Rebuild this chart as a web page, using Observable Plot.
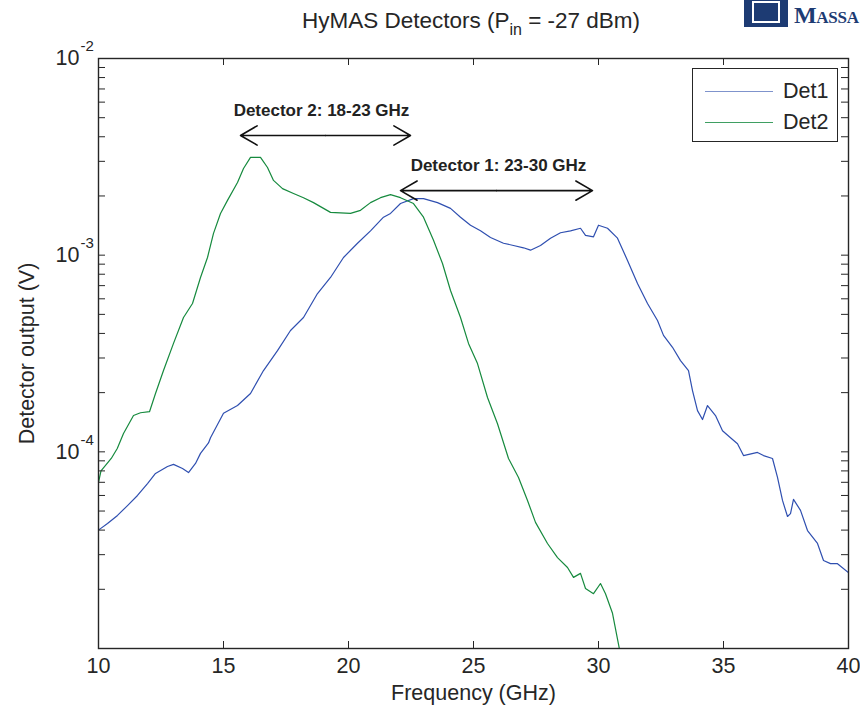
<!DOCTYPE html>
<html>
<head>
<meta charset="utf-8">
<script src="https://cdn.jsdelivr.net/npm/d3@7"></script>
<script src="https://cdn.jsdelivr.net/npm/@observablehq/plot@0.6"></script>
<style>
  html, body { margin: 0; padding: 0; background: #fff; }
  #wrap { position: relative; width: 860px; height: 708px; overflow: hidden; font-family: "Liberation Sans", Arial, sans-serif; color: #262626; }
  #title { position: absolute; left: 0; top: 9px; width: 942px; text-align: center; font-size: 22.5px; line-height: 23px; white-space: nowrap; }
  #title sub { font-size: 16px; vertical-align: -7px; line-height: 0; }
  #chart { position: absolute; left: 0; top: 40px; }
  #legend { position: absolute; left: 692px; top: 68px; width: 144px; height: 72px; border: 1px solid #262626; background: #fff; font-size: 21.5px; }
  .row { position: absolute; left: 0; height: 22px; display: flex; align-items: center; }
  .swatch { display: inline-block; width: 68px; height: 0; margin-left: 12px; margin-right: 10px; }
  #logo { position: absolute; left: 744px; top: -6px; width: 116px; height: 34px; overflow: hidden; }
  #logo .icon { position: absolute; left: 0; top: 0; width: 44px; height: 33px; background: #1d3b73; }
  #logo .icon i { position: absolute; left: 8px; top: 7px; width: 24px; height: 18px; border: 2px solid #fff; }
  #logo .word { position: absolute; left: 50px; top: 9px; font-family: "Liberation Serif", "DejaVu Serif", serif; font-weight: bold; color: #1d3b73; font-size: 24px; line-height: 24px; white-space: nowrap; letter-spacing: -0.3px; }
  #logo .word span { font-size: 17px; }
</style>
</head>
<body>
<div id="wrap">
  <div id="title">HyMAS Detectors (P<sub>in</sub> = -27 dBm)</div>
  <div id="logo"><div class="icon"><i></i></div><div class="word">M<span>ASSA</span></div></div>
  <div id="chart"></div>
  <div id="legend"></div>
</div>
<script>
// ---- data ----
const det1Freq = [10.0, 10.08, 10.36, 10.76, 11.16, 11.56, 11.96, 12.28, 12.76, 13.0, 13.36, 13.6, 13.88, 14.08, 14.4, 14.48, 15.0, 15.56, 16.08, 16.6, 17.16, 17.68, 18.2, 18.76, 19.28, 19.8, 20.36, 20.88, 21.4, 21.68, 22.08, 22.6, 23.0, 23.56, 24.08, 24.48, 24.88, 25.28, 25.68, 26.2, 26.6, 27.0, 27.28, 27.68, 28.08, 28.48, 28.88, 29.28, 29.48, 29.8, 30.0, 30.36, 30.76, 31.16, 31.56, 31.96, 32.36, 32.6, 32.96, 33.28, 33.6, 33.76, 33.96, 34.16, 34.36, 34.68, 34.96, 35.28, 35.56, 35.8, 36.36, 36.6, 36.96, 37.16, 37.36, 37.56, 37.68, 37.8, 38.08, 38.36, 38.76, 39.0, 39.28, 39.56, 40.0];
const det1Volt = [4.0e-5, 4.07e-5, 4.32e-5, 4.75e-5, 5.33e-5, 6.0e-5, 6.9e-5, 7.76e-5, 8.42e-5, 8.63e-5, 8.23e-5, 7.85e-5, 8.73e-5, 9.82e-5, 1.11e-4, 1.18e-4, 1.57e-4, 1.72e-4, 1.98e-4, 2.59e-4, 3.27e-4, 4.14e-4, 4.82e-4, 6.38e-4, 7.7e-4, 9.73e-4, 1.15e-3, 1.33e-3, 1.56e-3, 1.63e-3, 1.83e-3, 1.94e-3, 1.94e-3, 1.85e-3, 1.73e-3, 1.56e-3, 1.42e-3, 1.33e-3, 1.23e-3, 1.15e-3, 1.12e-3, 1.09e-3, 1.06e-3, 1.12e-3, 1.22e-3, 1.30e-3, 1.33e-3, 1.37e-3, 1.26e-3, 1.24e-3, 1.42e-3, 1.37e-3, 1.22e-3, 9.4e-4, 7.18e-4, 5.68e-4, 4.65e-4, 3.91e-4, 3.4e-4, 2.91e-4, 2.59e-4, 2.05e-4, 1.62e-4, 1.46e-4, 1.72e-4, 1.53e-4, 1.28e-4, 1.18e-4, 1.10e-4, 9.57e-5, 9.93e-5, 9.57e-5, 9.25e-5, 7.41e-5, 5.66e-5, 4.69e-5, 4.85e-5, 5.73e-5, 5.04e-5, 3.98e-5, 3.42e-5, 2.8e-5, 2.7e-5, 2.7e-5, 2.43e-5];
const det2Freq = [10.0, 10.1, 10.51, 10.75, 11.0, 11.4, 11.68, 12.04, 12.28, 12.6, 13.0, 13.4, 13.76, 14.08, 14.36, 14.6, 14.88, 15.16, 15.56, 15.8, 16.08, 16.48, 16.76, 17.0, 17.36, 17.8, 18.2, 18.6, 19.28, 20.08, 20.48, 20.88, 21.28, 21.68, 22.08, 22.6, 23.0, 23.4, 23.76, 24.08, 24.48, 24.8, 25.16, 25.56, 25.96, 26.4, 26.8, 27.16, 27.48, 27.96, 28.36, 28.76, 29.0, 29.28, 29.48, 29.8, 30.08, 30.28, 30.56, 30.84];
const det2Volt = [7.0e-5, 8.0e-5, 9.25e-5, 1.04e-4, 1.24e-4, 1.53e-4, 1.58e-4, 1.60e-4, 1.98e-4, 2.59e-4, 3.56e-4, 4.82e-4, 5.68e-4, 7.7e-4, 9.73e-4, 1.29e-3, 1.63e-3, 1.90e-3, 2.34e-3, 2.76e-3, 3.14e-3, 3.14e-3, 2.79e-3, 2.40e-3, 2.18e-3, 2.06e-3, 1.96e-3, 1.85e-3, 1.65e-3, 1.63e-3, 1.69e-3, 1.85e-3, 1.96e-3, 2.03e-3, 1.96e-3, 1.83e-3, 1.56e-3, 1.19e-3, 9.07e-4, 6.61e-4, 4.82e-4, 3.56e-4, 2.81e-4, 1.89e-4, 1.39e-4, 9.25e-5, 7.41e-5, 5.66e-5, 4.38e-5, 3.42e-5, 2.90e-5, 2.58e-5, 2.30e-5, 2.41e-5, 2.02e-5, 1.90e-5, 2.14e-5, 1.90e-5, 1.51e-5, 9.9e-6];
const seriesNames = ["Det1", "Det2"];
const seriesColors = ["#2f4fb0", "#168a3e"];
const legendColors = ["#7f93cc", "#3f9f62"];
const xTickValues = [10, 15, 20, 25, 30, 35, 40];
const yMajorValues = [1e-2, 1e-3, 1e-4];
const yMajorExponents = ["-2", "-3", "-4"];
const yMinorMultipliers = [1, 2, 3, 4, 5, 6, 7, 8, 9];
const yDecades = [1e-5, 1e-4, 1e-3];
const annotLabels = ["Detector 2: 18-23 GHz", "Detector 1: 23-30 GHz"];
const annotLabelX = [18.92, 26.0];
const annotLabelY = [5.45e-3, 2.86e-3];
const annotArrowFrom = [15.68, 22.08];
const annotArrowTo = [22.48, 29.76];
const annotArrowY = [4.06e-3, 2.13e-3];
const xLabel = "Frequency (GHz)";
const yLabel = "Detector output (V)";

// ---- tables ----
const det1 = det1Freq.map((f, i) => ({f, v: det1Volt[i], s: "Det1"}));
const det2 = det2Freq.map((f, i) => ({f, v: det2Volt[i], s: "Det2"}));
const yTicks = [];
for (const d of yDecades) for (const m of yMinorMultipliers) yTicks.push(d * m);
yTicks.push(1e-2);
const yMajor = yMajorValues.map((v, i) => ({v, e: yMajorExponents[i]}));
const labels = annotLabels.map((t, i) => ({t, x: annotLabelX[i], y: annotLabelY[i]}));
const arrows = [];
annotArrowFrom.forEach((a, i) => {
  const mid = (a + annotArrowTo[i]) / 2;
  arrows.push({x1: mid, x2: a, y: annotArrowY[i]});
  arrows.push({x1: mid, x2: annotArrowTo[i], y: annotArrowY[i]});
});

const W = 860, H = 668, mt = 18, mb = 60, ml = 98, mr = 12;
const fw = W - ml - mr, fh = H - mt - mb, tl = 7;
const ink = "#262626";
const fs = 21.5;

const chart = Plot.plot({
  width: W, height: H,
  marginTop: mt, marginBottom: mb, marginLeft: ml, marginRight: mr,
  style: {fontFamily: "'Liberation Sans', Arial, sans-serif", fontSize: fs + "px", color: ink, background: "white", overflow: "visible"},
  x: {domain: [10, 40], axis: null},
  y: {type: "log", domain: [1e-5, 1e-2], axis: null},
  marks: [
    Plot.line(det1, {x: "f", y: "v", stroke: seriesColors[0], strokeWidth: 1.2, clip: true}),
    Plot.line(det2, {x: "f", y: "v", stroke: seriesColors[1], strokeWidth: 1.2, clip: true}),
    Plot.frame({stroke: ink, strokeWidth: 1.4}),
    Plot.tickX(xTickValues, {x: d => d, insetTop: fh - tl, stroke: ink}),
    Plot.tickX(xTickValues, {x: d => d, insetBottom: fh - tl, stroke: ink}),
    Plot.tickY(yTicks, {y: d => d, insetRight: fw - tl, stroke: ink}),
    Plot.tickY(yTicks, {y: d => d, insetLeft: fw - tl, stroke: ink}),
    Plot.text(xTickValues, {x: d => d, frameAnchor: "bottom", dy: 24, text: d => String(d), fontSize: fs, fill: ink}),
    Plot.text(yMajor, {y: "v", frameAnchor: "left", dx: -19, text: () => "10", textAnchor: "end", fontSize: fs, fill: ink}),
    Plot.text(yMajor, {y: "v", frameAnchor: "left", dx: -18, dy: -12, text: "e", textAnchor: "start", fontSize: 15, fill: ink}),
    Plot.text([xLabel], {frameAnchor: "bottom", dy: 51, text: d => d, fontSize: fs, fill: ink}),
    Plot.text([yLabel], {frameAnchor: "left", dx: -71, rotate: -90, textAnchor: "middle", text: d => d, fontSize: fs, fill: ink}),
    Plot.arrow(arrows, {x1: "x1", x2: "x2", y1: "y", y2: "y", stroke: "#111", strokeWidth: 1.6, headLength: 18, headAngle: 60}),
    Plot.text(labels, {x: "x", y: "y", text: "t", fontWeight: "bold", fontSize: 17, fill: "#222"})
  ]
});
document.getElementById("chart").appendChild(chart);

// legend
const leg = document.getElementById("legend");
seriesNames.forEach((n, i) => {
  const row = document.createElement("div");
  row.className = "row";
  row.style.top = (11 + i * 31) + "px";
  const sw = document.createElement("span");
  sw.className = "swatch";
  sw.style.borderTop = "1.5px solid " + legendColors[i];
  const tx = document.createElement("span");
  tx.textContent = n;
  row.appendChild(sw); row.appendChild(tx);
  leg.appendChild(row);
});
</script>
</body>
</html>
